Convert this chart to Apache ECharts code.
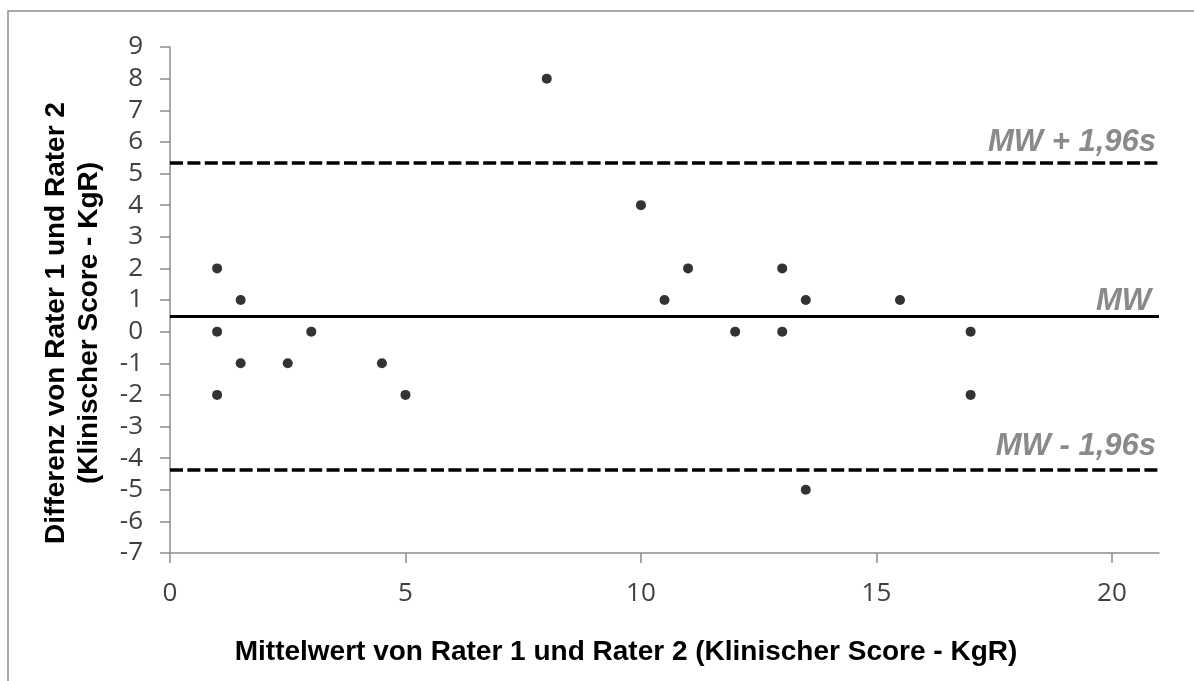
<!DOCTYPE html>
<html>
<head>
<meta charset="utf-8">
<script src="https://cdn.jsdelivr.net/npm/echarts@6/dist/echarts.min.js"></script>
<style>
  html, body { margin: 0; padding: 0; background: #fff; }
  #chart { width: 1194px; height: 681px; }
</style>
</head>
<body>
<div id="chart"></div>
<script>
// Bland-Altman plot: mean of the two raters vs. their difference
const meanScores = [1, 1, 1, 1.5, 1.5, 2.5, 3, 4.5, 5, 8, 10, 10.5, 11, 12, 13, 13, 13.5, 13.5, 15.5, 17, 17];
const differences = [2, 0, -2, 1, -1, -1, 0, -1, -2, 8, 4, 1, 2, 0, 2, 0, 1, -5, 1, 0, -2];

// Mean difference (MW) and limits of agreement (MW ± 1.96 s)
const meanDiff = 0.48;
const upperLimit = 5.35;
const lowerLimit = -4.38;
const limitLabels = ['MW + 1,96s', 'MW', 'MW - 1,96s'];

const xTicks = [0, 5, 10, 15, 20];
const xTitle = 'Mittelwert von Rater 1 und Rater 2 (Klinischer Score - KgR)';
const yTitle = 'Differenz von Rater 1 und Rater 2\n(Klinischer Score - KgR)';

const points = meanScores.map((m, i) => [m, differences[i]]);

const chart = echarts.init(document.getElementById('chart'), null, { renderer: 'canvas' });

const tickFont = { fontFamily: 'Open Sans', fontSize: 26, color: '#404040' };
const refLabel = {
  show: true,
  position: 'insideEndTop',
  fontFamily: 'Liberation Sans',
  fontWeight: 'bold',
  fontStyle: 'italic',
  fontSize: 31,
  color: '#8a8a8a'
};

chart.setOption({
  animation: false,
  backgroundColor: '#ffffff',
  grid: { left: 170, right: 35, top: 47, bottom: 128 },
  xAxis: {
    type: 'value',
    min: 0,
    max: 21,
    interval: 5,
    axisLine: { onZero: false, lineStyle: { color: '#8c8c8c', width: 1.5 } },
    axisTick: { show: true, length: 10, customValues: xTicks, lineStyle: { color: '#8c8c8c', width: 1.5 } },
    axisLabel: Object.assign({ margin: 28, customValues: xTicks }, tickFont),
    splitLine: { show: false }
  },
  yAxis: {
    type: 'value',
    min: -7,
    max: 9,
    interval: 1,
    axisLine: { show: true, onZero: false, lineStyle: { color: '#8c8c8c', width: 1.5 } },
    axisTick: { show: true, length: 10, lineStyle: { color: '#8c8c8c', width: 1.5 } },
    axisLabel: Object.assign({ margin: 27 }, tickFont),
    splitLine: { show: false }
  },
  series: [
    {
      type: 'scatter',
      data: points,
      symbol: 'circle',
      symbolSize: 10,
      itemStyle: { color: '#000000' },
      z: 5,
      markLine: {
        silent: true,
        symbol: ['none', 'none'],
        precision: 2,
        data: [
          {
            yAxis: upperLimit,
            lineStyle: { type: [13, 4.4], width: 3.5, color: '#000' },
            label: Object.assign({}, refLabel, { formatter: limitLabels[0], distance: [3, 4] })
          },
          {
            yAxis: meanDiff,
            lineStyle: { type: 'solid', width: 3, color: '#000' },
            label: Object.assign({}, refLabel, { formatter: limitLabels[1], distance: [8, -1] })
          },
          {
            yAxis: lowerLimit,
            lineStyle: { type: [13, 4.4], width: 3.5, color: '#000' },
            label: Object.assign({}, refLabel, { formatter: limitLabels[2], distance: [3, 8] })
          }
        ]
      }
    }
  ],
  graphic: [
    {
      type: 'rect',
      shape: { x: 8, y: 11, width: 1300, height: 800 },
      style: { fill: 'none', stroke: '#8c8c8c', lineWidth: 1.5 },
      silent: true,
      z: -10
    },
    {
      type: 'text',
      x: 626,
      y: 652,
      style: {
        text: xTitle,
        fontFamily: 'Liberation Sans',
        fontWeight: 'bold',
        fontSize: 28,
        fill: '#000',
        align: 'center',
        verticalAlign: 'middle'
      }
    },
    {
      type: 'text',
      x: 73,
      y: 323,
      rotation: Math.PI / 2,
      style: {
        text: yTitle,
        fontFamily: 'Liberation Sans',
        fontWeight: 'bold',
        fontSize: 28,
        lineHeight: 33,
        fill: '#000',
        align: 'center',
        verticalAlign: 'middle'
      }
    }
  ]
});
</script>
</body>
</html>
